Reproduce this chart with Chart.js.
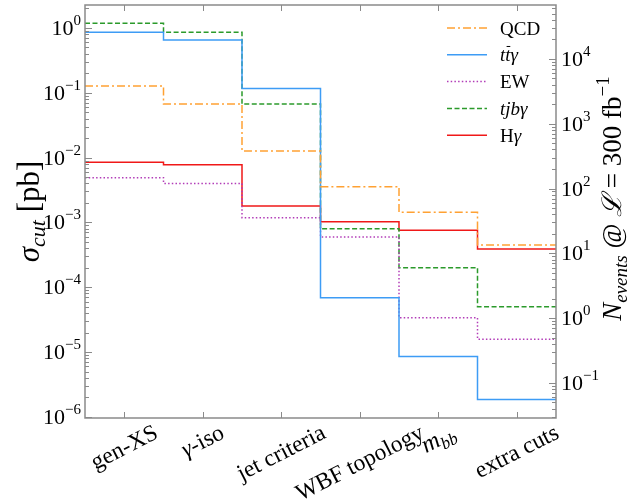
<!DOCTYPE html>
<html>
<head>
<meta charset="utf-8">
<script src="https://cdn.jsdelivr.net/npm/chart.js@4.4.0/dist/chart.umd.min.js"></script>
<style>html,body{margin:0;padding:0;background:#fff}</style>
</head>
<body>
<canvas id="grafica" width="643" height="504"></canvas>
<script>
// datos (sigma en pb, un valor por corte)
const categories = ['gen-XS', 'γ-iso', 'jet criteria', 'WBF topology', 'm_bb', 'extra cuts'];
const seriesNames = ['QCD', 'tt\u0304γ', 'EW', 'tjbγ', 'Hγ'];
const qcd      = [0.127, 0.067, 0.0126, 3.56e-3, 1.43e-3, 4.48e-4];
const ttgamma  = [0.86, 0.65, 0.116, 6.9e-5, 8.5e-6, 1.86e-6];
const ew       = [4.9e-3, 4.0e-3, 1.18e-3, 5.96e-4, 3.38e-5, 1.58e-5];
const tjbgamma = [1.18, 0.86, 0.067, 8.0e-4, 2.0e-4, 5.0e-5];
const hgamma   = [8.46e-3, 7.77e-3, 1.79e-3, 1.02e-3, 7.6e-4, 3.89e-4];
const leftExps = [-6, -5, -4, -3, -2, -1, 0];
const rightExps = [-1, 0, 1, 2, 3, 4];
const lumiFactor = 3e4; // N_events / sigma
const yMin = 9.6e-7, yMax = 2.26;

const FONT = '"Liberation Serif", "DejaVu Serif", serif';
const AXIS_COLOR = '#8a8a8a';

function toSteps(vals) {
    const pts = vals.map((v, i) => ({ x: i, y: v }));
    pts.push({ x: vals.length, y: vals[vals.length - 1] });
    return pts;
}

function fnt(it, fs) { return (it ? 'italic ' : '') + fs + 'px ' + FONT; }

function runsWidth(ctx, runs) {
    let w = 0;
    runs.forEach(r => { ctx.font = fnt(r.it, r.fs); w += ctx.measureText(r.t).width; });
    return w;
}

// dibuja texto con partes en cursiva / sub / superindice, x = inicio, y = linea base
function drawRuns(ctx, runs, x, y) {
    let cx = x;
    runs.forEach(r => {
        ctx.font = fnt(r.it, r.fs);
        const w = ctx.measureText(r.t).width;
        ctx.fillText(r.t, cx, y + (r.dy || 0));
        if (r.bar) {
            ctx.save();
            ctx.lineWidth = 1;
            ctx.beginPath();
            ctx.moveTo(cx + w * 0.25, y - r.fs * 0.78);
            ctx.lineTo(cx + w * 0.95, y - r.fs * 0.78);
            ctx.stroke();
            ctx.restore();
        }
        cx += w;
    });
}

function xRuns(s, fs) {
    const i = s.indexOf('_');
    if (i >= 0) {
        return [{ t: s.slice(0, i), it: true, fs: fs * 1.05 }, { t: s.slice(i + 1), it: true, fs: fs * 0.72, dy: fs * 0.22 }];
    }
    return s.split(/(γ)/).filter(Boolean).map(p => ({ t: p, it: p === 'γ', fs: fs }));
}

function legendRuns(s, fs) {
    const runs = [];
    for (const ch of s) {
        if (ch === '\u0304') { runs[runs.length - 1].bar = true; continue; }
        const it = /[a-zγ]/.test(ch);
        runs.push({ t: ch, it: it, fs: fs });
    }
    return runs;
}

function powRuns(e) {
    return [{ t: '10', it: false, fs: 22 }, { t: String(e).replace('-', '−'), it: false, fs: 15, dy: -10 }];
}

const ejesPlugin = {
    id: 'ejes',
    afterDatasetsDraw(chart) {
        const ctx = chart.ctx;
        const a = chart.chartArea;
        const xs = chart.scales.x, ys = chart.scales.y, y2 = chart.scales.y2;
        ctx.save();
        ctx.strokeStyle = AXIS_COLOR;
        ctx.lineWidth = 1.5;
        ctx.strokeRect(a.left, a.top, a.right - a.left, a.bottom - a.top);

        // ticks eje x (arriba y abajo, hacia dentro)
        ctx.lineWidth = 1;
        categories.forEach((c, i) => {
            const px = Math.round(xs.getPixelForValue(i + 0.5)) + 0.5;
            ctx.beginPath();
            ctx.moveTo(px, a.bottom); ctx.lineTo(px, a.bottom - 6);
            ctx.moveTo(px, a.top); ctx.lineTo(px, a.top + 6);
            ctx.stroke();
        });

        // ticks log izquierda y derecha
        function logTicks(scale, x0, dir) {
            for (let e = -8; e <= 6; e++) {
                for (let m = 1; m <= 9; m++) {
                    const v = m * Math.pow(10, e);
                    if (v < scale.min || v > scale.max) continue;
                    const py = Math.round(scale.getPixelForValue(v)) + 0.5;
                    const len = m === 1 ? 7 : 4;
                    ctx.beginPath();
                    ctx.moveTo(x0, py); ctx.lineTo(x0 + dir * len, py);
                    ctx.stroke();
                }
            }
        }
        logTicks(ys, a.left, 1);
        logTicks(y2, a.right, -1);

        ctx.fillStyle = '#000';
        ctx.strokeStyle = '#000';
        ctx.textBaseline = 'alphabetic';
        ctx.textAlign = 'left';
        leftExps.forEach(e => {
            const runs = powRuns(e);
            const w = runsWidth(ctx, runs);
            const py = ys.getPixelForValue(Math.pow(10, e));
            drawRuns(ctx, runs, a.left - 4 - w, py + 7);
        });
        rightExps.forEach(e => {
            const runs = powRuns(e);
            const py = y2.getPixelForValue(Math.pow(10, e));
            drawRuns(ctx, runs, a.right + 5, py + 7);
        });

        // etiquetas x rotadas (centradas en el tick como matplotlib)
        const th = 27 * Math.PI / 180;
        categories.forEach((c, i) => {
            const runs = xRuns(c, 23.5);
            const w = runsWidth(ctx, runs);
            const h = 25;
            const H = w * Math.sin(th) + h * Math.cos(th);
            const cx = xs.getPixelForValue(i + 0.5);
            const cy = a.bottom + 2 + H / 2;
            ctx.save();
            ctx.translate(cx, cy);
            ctx.rotate(-th);
            drawRuns(ctx, runs, -w / 2, 7);
            ctx.restore();
        });

        // titulos de ejes
        const leftTitle = [{ t: 'σ', it: true, fs: 31 }, { t: 'cut', it: true, fs: 22, dy: 6 }, { t: ' [pb]', it: false, fs: 31 }];
        const rightTitle = [{ t: 'N', it: true, fs: 27 }, { t: 'events', it: true, fs: 19, dy: 6 },
            { t: ' @ ', it: false, fs: 27 }, { t: 'ℒ', it: true, fs: 27 }, { t: ' = 300 fb', it: false, fs: 27 },
            { t: '−1', it: false, fs: 19, dy: -12 }];
        const midY = (a.top + a.bottom) / 2;
        [[leftTitle, 30, midY], [rightTitle, 612, midY - 13]].forEach(([runs, x, y]) => {
            const w = runsWidth(ctx, runs);
            ctx.save();
            ctx.translate(x, y);
            ctx.rotate(-Math.PI / 2);
            drawRuns(ctx, runs, -w / 2, 9);
            ctx.restore();
        });

        // leyenda
        chart.data.datasets.forEach((ds, i) => {
            const ly = 28 + i * 26.8;
            ctx.save();
            ctx.strokeStyle = ds.borderColor;
            ctx.lineWidth = ds.borderWidth;
            ctx.setLineDash(ds.borderDash || []);
            ctx.beginPath();
            ctx.moveTo(447, ly); ctx.lineTo(487, ly);
            ctx.stroke();
            ctx.restore();
            drawRuns(ctx, legendRuns(ds.label, 19), 500, ly + 6.5);
        });
        ctx.restore();
    }
};

const series = [qcd, ttgamma, ew, tjbgamma, hgamma];
const colores = ['#ffa133', '#3d9cf5', '#b23cb8', '#2b9a2b', '#f01818'];
const guiones = [[8, 3, 2, 3], [], [1.5, 2.2], [5, 2.5], []];

new Chart(document.getElementById('grafica'), {
    type: 'line',
    data: {
        datasets: series.map((vals, i) => ({
            label: seriesNames[i],
            data: toSteps(vals),
            borderColor: colores[i],
            borderWidth: 1.5,
            borderDash: guiones[i],
            stepped: 'before',
            pointRadius: 0,
            fill: false
        }))
    },
    options: {
        responsive: false,
        animation: false,
        devicePixelRatio: 1,
        layout: { padding: { left: 85, right: 87, top: 5, bottom: 86 } },
        plugins: { legend: { display: false }, tooltip: { enabled: false } },
        scales: {
            x: { type: 'linear', min: 0, max: categories.length, display: false },
            y: { type: 'logarithmic', min: yMin, max: yMax, display: false },
            y2: { type: 'logarithmic', min: yMin * lumiFactor, max: yMax * lumiFactor, display: false }
        }
    },
    plugins: [ejesPlugin]
});
</script>
</body>
</html>
